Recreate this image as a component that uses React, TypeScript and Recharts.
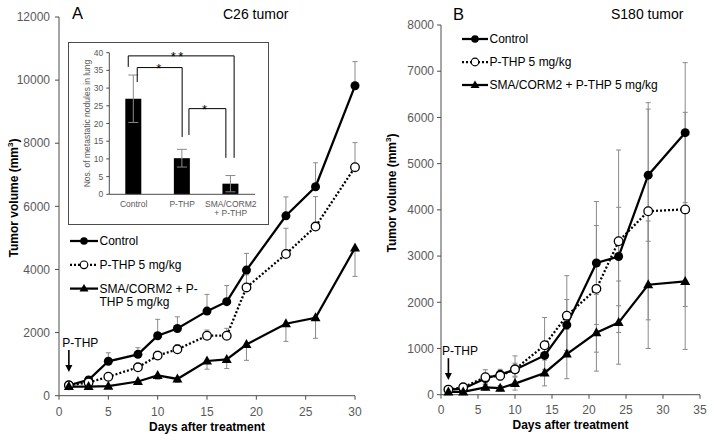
import React from 'react';
import {
  ComposedChart, Line, Bar, XAxis, YAxis, ErrorBar, Legend,
  ReferenceLine, ReferenceDot, Label,
} from 'recharts';

const FONT = 'Arial, "Liberation Sans", Helvetica, sans-serif';
const INK = '#000000';
const AXIS = '#4d4d4d';
const TICK = '#595959';
const ERR = '#8a8a8a';

// ---------- Panel A: C26 tumor ----------
const daysA = [1, 3, 5, 8, 10, 12, 15, 17, 19, 23, 26, 30];
const controlA = [330, 500, 1090, 1310, 1900, 2130, 2680, 2980, 3980, 5700, 6620, 9820];
const controlAErrUp = [40, 100, 270, 210, 520, 370, 530, 510, 530, 600, 760, 765];
const pthpA = [330, 420, 600, 900, 1270, 1470, 1900, 1900, 3430, 4490, 5360, 7240];
const pthpAErrUp = [40, 60, 80, 110, 140, 140, 180, 235, 400, 815, 950, 780];
const comboA = [290, 290, 300, 450, 640, 530, 1100, 1150, 1620, 2280, 2470, 4680];
const comboAErrDown = [20, 30, 30, 80, 120, 110, 260, 290, 500, 560, 650, 900];
const xTicksA = [0, 5, 10, 15, 20, 25, 30];
const yTicksA = [0, 2000, 4000, 6000, 8000, 10000, 12000];
const arrowA = { day: 1, from: 1450, to: 750, text: 'P-THP' };

// ---------- Panel B: S180 tumor ----------
const daysB = [1, 3, 6, 8, 10, 14, 17, 21, 24, 28, 33];
const controlB = [110, 130, 350, 440, 540, 850, 1510, 2850, 2990, 4750, 5670];
const controlBErr = [30, 40, 100, 110, 140, 300, 550, 1330, 1065, 1430, 1515];
const pthpB = [110, 160, 380, 410, 550, 1070, 1710, 2290, 3320, 3970, 4010];
const pthpBErr = [30, 40, 160, 100, 290, 600, 865, 1370, 1975, 2350, 2100];
const comboB = [60, 60, 160, 140, 240, 470, 880, 1340, 1560, 2380, 2450];
const comboBErr = [20, 20, 60, 60, 140, 280, 534, 830, 900, 1380, 1470];
const xTicksB = [0, 5, 10, 15, 20, 25, 30, 35];
const yTicksB = [0, 1000, 2000, 3000, 4000, 5000, 6000, 7000, 8000];
const arrowB = { day: 1, from: 790, to: 320, text: 'P-THP' };

// ---------- Inset: lung metastasis ----------
const insetCats = ['Control', 'P-THP', 'SMA/CORM2\n+ P-THP'];
const insetPos = [0.5, 1.5, 2.5];
const insetVals = [27, 10.2, 3.0];
const insetErr = [6.7, 2.5, 2.3];
const insetTicks = [0, 5, 10, 15, 20, 25, 30, 35, 40];
const brackets = [
  { x1: 0.39, x2: 2.57, top: 39.1, left: 36, right: 10.3, star: '**', starX: 1.42 },
  { x1: 0.575, x2: 1.5, top: 35.8, left: 31.7, right: 16.2, star: '*', starX: 1.02 },
  { x1: 1.64, x2: 2.4, top: 24.2, left: 16.75, right: 10.3, star: '*', starX: 1.96 },
];

// Legends
const legendNamesA = [['Control'], ['P-THP 5 mg/kg'], ['SMA/CORM2 + P-', 'THP 5 mg/kg']];
const legendNamesB = [['Control'], ['P-THP 5 mg/kg'], ['SMA/CORM2 + P-THP 5 mg/kg']];
const legendStyles: Array<'filled' | 'open' | 'tri'> = ['filled', 'open', 'tri'];

const dataA = daysA.map((d, i) => ({
  day: d,
  control: controlA[i],
  controlErr: [0, controlAErrUp[i]],
  pthp: pthpA[i],
  pthpErr: [0, pthpAErrUp[i]],
  combo: comboA[i],
  comboErr: [comboAErrDown[i], 0],
}));

const dataB = daysB.map((d, i) => ({
  day: d,
  control: controlB[i],
  controlErr: controlBErr[i],
  pthp: pthpB[i],
  pthpErr: pthpBErr[i],
  combo: comboB[i],
  comboErr: comboBErr[i],
}));

const insetData = insetCats.map((c, i) => ({ name: c, pos: insetPos[i], value: insetVals[i], err: insetErr[i] }));

const TriDot = (props: any) => {
  const { cx, cy, index } = props;
  if (cx == null || cy == null) return <g key={`tn${index}`} />;
  return (
    <polygon
      key={`t${index}`}
      points={`${cx},${cy - 5.5} ${cx + 5},${cy + 3.5} ${cx - 5},${cy + 3.5}`}
      fill={INK}
    />
  );
};

const arrowShape = (label: string) => (p: any) => {
  const { x1, y1, y2 } = p;
  if (x1 == null || y1 == null) return <g />;
  const top = Math.min(y1, y2);
  const bot = Math.max(y1, y2);
  return (
    <g>
      <text x={x1 - 6.5} y={top - 3} fontFamily={FONT} fontSize={12} fill={INK}>{label}</text>
      <line x1={x1} y1={top} x2={x1} y2={bot - 6} stroke={INK} strokeWidth={1.6} />
      <polygon points={`${x1 - 3.5},${bot - 7} ${x1 + 3.5},${bot - 7} ${x1},${bot}`} fill={INK} />
    </g>
  );
};

const LegendMarker = ({ kind, x, y }: { kind: string; x: number; y: number }) => {
  if (kind === 'filled') return <circle cx={x} cy={y} r={3.8} fill={INK} />;
  if (kind === 'open') return <circle cx={x} cy={y} r={3.8} fill="#fff" stroke={INK} strokeWidth={1.2} />;
  return <polygon points={`${x},${y - 4.5} ${x + 4.5},${y + 3} ${x - 4.5},${y + 3}`} fill={INK} />;
};

const LegendBox = ({ names, lineLen, rowGap, width }: { names: string[][]; lineLen: number; rowGap: number; width: number }) => (
  <svg width={width} height={90} style={{ overflow: 'visible' }}>
    {names.map((lines, i) => {
      const y = 10 + i * rowGap;
      const kind = legendStyles[i];
      return (
        <g key={i}>
          <line
            x1={0} y1={y} x2={lineLen} y2={y}
            stroke={INK} strokeWidth={2.25}
            strokeDasharray={kind === 'open' ? '2 2' : undefined}
          />
          <LegendMarker kind={kind} x={lineLen / 2} y={y} />
          <text x={lineLen + 1.5} y={y + 4.3} fontFamily={FONT} fontSize={12} fill={INK}>
            {lines.map((l, j) => (
              <tspan key={j} x={lineLen + 1.5} dy={j === 0 ? 0 : 13.4}>{l}</tspan>
            ))}
          </text>
        </g>
      );
    })}
  </svg>
);

const xLabel = (viewBox: any, off: number) => (
  <text
    x={viewBox.x + viewBox.width / 2}
    y={viewBox.y + off}
    textAnchor="middle"
    fontFamily={FONT}
    fontSize={12}
    fontWeight="bold"
    fill={INK}
  >
    Days after treatment
  </text>
);

const yLabel = (cx: number, cy: number) => (
  <text
    transform={`translate(${cx},${cy}) rotate(-90)`}
    textAnchor="middle"
    dominantBaseline="central"
    fontFamily={FONT}
    fontSize={12}
    fontWeight="bold"
    fill={INK}
  >
    Tumor volume (mm<tspan dy={-4} fontSize={8}>3</tspan><tspan dy={4}>)</tspan>
  </text>
);

const tickStyle = { fill: TICK, fontSize: 12, fontFamily: FONT };

function PanelA() {
  return (
    <ComposedChart width={375} height={442} data={dataA} margin={{ top: 17, right: 20, bottom: 0, left: 0 }}>
      <XAxis
        type="number" dataKey="day" domain={[0, 30]} ticks={xTicksA} interval={0}
        height={46.3} tickSize={4} tickMargin={8}
        axisLine={{ stroke: AXIS }} tickLine={{ stroke: AXIS }} tick={tickStyle}
      >
        <Label content={(p: any) => xLabel(p.viewBox, 35.5)} />
      </XAxis>
      <YAxis
        type="number" domain={[0, 12000]} ticks={yTicksA} interval={0}
        width={59} tickSize={4} tickMargin={5}
        axisLine={{ stroke: AXIS }} tickLine={{ stroke: AXIS }} tick={tickStyle}
      >
        <Label content={() => yLabel(14, 198)} />
      </YAxis>
      <Line
        dataKey="control" stroke={INK} strokeWidth={2.25} isAnimationActive={false}
        dot={{ r: 4.5, fill: INK, stroke: INK, strokeWidth: 0 }} activeDot={false}
      >
        <ErrorBar dataKey="controlErr" direction="y" width={2.5} stroke={ERR} strokeWidth={1} />
      </Line>
      <Line
        dataKey="pthp" stroke={INK} strokeWidth={2.25} strokeDasharray="2 2" isAnimationActive={false}
        dot={{ r: 4.3, fill: '#fff', stroke: INK, strokeWidth: 1.3, strokeDasharray: 'none' }} activeDot={false}
      >
        <ErrorBar dataKey="pthpErr" direction="y" width={2.5} stroke={ERR} strokeWidth={1} />
      </Line>
      <Line
        dataKey="combo" stroke={INK} strokeWidth={2.25} isAnimationActive={false}
        dot={TriDot} activeDot={false}
      >
        <ErrorBar dataKey="comboErr" direction="y" width={2.5} stroke={ERR} strokeWidth={1} />
      </Line>
      <ReferenceLine
        segment={[{ x: arrowA.day, y: arrowA.from }, { x: arrowA.day, y: arrowA.to }]}
        shape={arrowShape(arrowA.text)}
      />
      <Legend
        layout="vertical" align="center" verticalAlign="middle"
        content={() => <LegendBox names={legendNamesA} lineLen={28} rowGap={23.8} width={150} />}
        wrapperStyle={{ position: 'absolute', left: 70, top: 230.7, width: 150, height: 90 }}
      />
    </ComposedChart>
  );
}

function PanelB() {
  return (
    <ComposedChart width={363} height={442} data={dataB} margin={{ top: 25, right: 23, bottom: 0, left: 0 }}>
      <XAxis
        type="number" dataKey="day" domain={[0, 35]} ticks={xTicksB} interval={0}
        height={47.3} tickSize={4} tickMargin={7}
        axisLine={{ stroke: AXIS }} tickLine={{ stroke: AXIS }} tick={tickStyle}
      >
        <Label content={(p: any) => xLabel(p.viewBox, 34.6)} />
      </XAxis>
      <YAxis
        type="number" domain={[0, 8000]} ticks={yTicksB} interval={0}
        width={81} tickSize={4} tickMargin={3}
        axisLine={{ stroke: AXIS }} tickLine={{ stroke: AXIS }} tick={tickStyle}
      >
        <Label content={() => yLabel(32, 193)} />
      </YAxis>
      <Line
        dataKey="control" stroke={INK} strokeWidth={2.25} isAnimationActive={false}
        dot={{ r: 4.5, fill: INK, stroke: INK, strokeWidth: 0 }} activeDot={false}
      >
        <ErrorBar dataKey="controlErr" direction="y" width={2.5} stroke={ERR} strokeWidth={1} />
      </Line>
      <Line
        dataKey="pthp" stroke={INK} strokeWidth={2.25} strokeDasharray="2 2" isAnimationActive={false}
        dot={{ r: 4.3, fill: '#fff', stroke: INK, strokeWidth: 1.3, strokeDasharray: 'none' }} activeDot={false}
      >
        <ErrorBar dataKey="pthpErr" direction="y" width={2.5} stroke={ERR} strokeWidth={1} />
      </Line>
      <Line
        dataKey="combo" stroke={INK} strokeWidth={2.25} isAnimationActive={false}
        dot={TriDot} activeDot={false}
      >
        <ErrorBar dataKey="comboErr" direction="y" width={2.5} stroke={ERR} strokeWidth={1} />
      </Line>
      <ReferenceLine
        segment={[{ x: arrowB.day, y: arrowB.from }, { x: arrowB.day, y: arrowB.to }]}
        shape={arrowShape(arrowB.text)}
      />
      <Legend
        layout="vertical" align="center" verticalAlign="middle"
        content={() => <LegendBox names={legendNamesB} lineLen={26} rowGap={23.0} width={250} />}
        wrapperStyle={{ position: 'absolute', left: 102, top: 29.3, width: 250, height: 90 }}
      />
    </ComposedChart>
  );
}

const InsetTick = (props: any) => {
  const { x, y, payload } = props;
  const lines = String(payload.value).split('\n');
  return (
    <text x={x} y={y + 13} textAnchor="middle" fontFamily={FONT} fontSize={8.5} fill={TICK}>
      {lines.map((l, i) => (
        <tspan key={i} x={x} dy={i === 0 ? 0 : 8.5}>{l}</tspan>
      ))}
    </text>
  );
};

const StarShape = (label: string) => (p: any) => {
  const { cx, cy } = p;
  if (cx == null) return <g />;
  return (
    <text
      x={cx} y={cy + 5.5} textAnchor="middle" fontFamily={FONT} fontSize={13}
      letterSpacing={label.length > 1 ? 2.5 : 0} fill={INK}
    >
      {label}
    </text>
  );
};

function Inset() {
  return (
    <div
      style={{
        position: 'absolute', left: 68, top: 42, width: 201, height: 183,
        border: `1px solid ${AXIS}`, boxSizing: 'border-box', background: '#fff',
      }}
    >
      <ComposedChart width={199} height={181} data={insetData} margin={{ top: 9.7, right: 13, bottom: 0, left: 0 }}>
        <XAxis
          xAxisId="cat" dataKey="name" height={29.7} tickLine={false} tickSize={0} tickMargin={0}
          axisLine={{ stroke: AXIS }} tick={<InsetTick />} interval={0}
        />
        <XAxis
          xAxisId="num" dataKey="pos" type="number" domain={[0, 3]} allowDataOverflow hide
        />
        <YAxis
          type="number" domain={[0, 40]} ticks={insetTicks} interval={0}
          width={40.3} tickSize={3} tickMargin={3}
          axisLine={{ stroke: AXIS }} tickLine={{ stroke: AXIS }}
          tick={{ fill: TICK, fontSize: 8.5, fontFamily: FONT }}
        >
          <Label
            content={(p: any) => (
              <text
                transform={`translate(18,${p.viewBox.y + p.viewBox.height / 2}) rotate(-90)`}
                textAnchor="middle" dominantBaseline="central"
                fontFamily={FONT} fontSize={8.5} fill={TICK}
              >
                Nos. of metastatic nodules in lung
              </text>
            )}
          />
        </YAxis>
        <Bar xAxisId="cat" dataKey="value" fill={INK} barSize={16} isAnimationActive={false}>
          <ErrorBar dataKey="err" direction="y" width={5} stroke={ERR} strokeWidth={1} />
        </Bar>
        {brackets.map((b, i) => (
          <ReferenceLine
            key={`bt${i}`} xAxisId="num" ifOverflow="visible"
            segment={[{ x: b.x1, y: b.top }, { x: b.x2, y: b.top }]}
            stroke={INK} strokeWidth={1}
          />
        ))}
        {brackets.map((b, i) => (
          <ReferenceLine
            key={`bl${i}`} xAxisId="num" ifOverflow="visible"
            segment={[{ x: b.x1, y: b.top }, { x: b.x1, y: b.left }]}
            stroke={INK} strokeWidth={1}
          />
        ))}
        {brackets.map((b, i) => (
          <ReferenceLine
            key={`br${i}`} xAxisId="num" ifOverflow="visible"
            segment={[{ x: b.x2, y: b.top }, { x: b.x2, y: b.right }]}
            stroke={INK} strokeWidth={1}
          />
        ))}
        {brackets.map((b, i) => (
          <ReferenceDot
            key={`bs${i}`} xAxisId="num" x={b.starX} y={b.top} r={0}
            ifOverflow="visible" shape={StarShape(b.star)}
          />
        ))}
      </ComposedChart>
    </div>
  );
}

export default function App() {
  return (
    <div
      style={{
        position: 'absolute', left: 0, top: 0, width: 723, height: 442,
        background: '#fff', overflow: 'hidden', fontFamily: FONT,
      }}
    >
      <div style={{ position: 'absolute', left: 360, top: 0 }}><PanelB /></div>
      <div style={{ position: 'absolute', left: 0, top: 0 }}><PanelA /></div>
      <Inset />
      <svg
        width={723} height={442}
        style={{ position: 'absolute', left: 0, top: 0, pointerEvents: 'none' }}
      >
        <text x={72} y={19.3} fontFamily={FONT} fontSize={16.5} fill={INK}>A</text>
        <text x={223} y={19.3} fontFamily={FONT} fontSize={14} fill={INK}>C26 tumor</text>
        <text x={453} y={20} fontFamily={FONT} fontSize={16.5} fill={INK}>B</text>
        <text x={611} y={18.5} fontFamily={FONT} fontSize={14} fill={INK}>S180 tumor</text>
      </svg>
    </div>
  );
}
